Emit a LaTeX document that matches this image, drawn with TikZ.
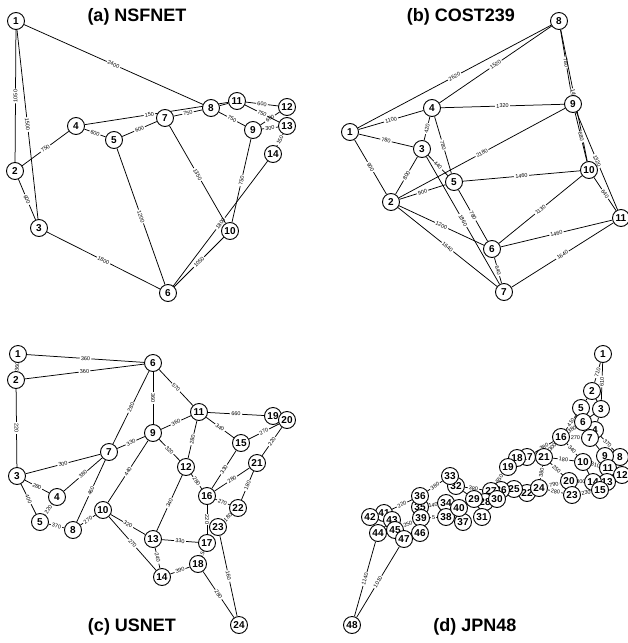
\documentclass[tikz,border=0pt]{standalone}
\usepackage{fontspec}
\setmainfont{Liberation Sans}
\usepackage{tikz}
\usetikzlibrary{backgrounds}
\tikzstyle{vtx}=[circle, draw, fill=white,% numbered site
line width=0.9pt, minimum size=17pt, inner sep=0pt, font=\fontsize{10}{10}\selectfont\bfseries]
\tikzstyle{link}=[line width=0.75pt]
\tikzstyle{wt}=[sloped, fill=white, inner xsep=1.2pt, inner ysep=0.4pt, font=\fontsize{5.5}{5.5}\selectfont]
\tikzstyle{ttl}=[font=\fontsize{18}{18}\selectfont\bfseries]

\begin{document}
\begin{tikzpicture}[x=1pt,y=-1pt]
\useasboundingbox (0,0) rectangle (628,643);
% titles
\node[ttl] (ta) at (137,17) {(a) NSFNET};
\node[ttl] (tb) at (461,17) {(b) COST239};
\node[ttl] (tc) at (132,627) {(c) USNET};
\node[ttl] (td) at (475,627) {(d) JPN48};
% (a) NSFNET
\foreach \i/\x/\y in {1/16/21, 2/15/171, 3/39/228, 4/76/126, 5/114/140, 6/168/293, 7/165/118,
  8/211/108, 9/253/130, 10/230/231, 11/237/101, 12/287/107, 13/287/126, 14/273/154}
  \node[vtx] (n\i) at (\x,\y) {\i};
% (b) COST239
\foreach \i/\x/\y in {1/350/132, 2/391/202, 3/422/149, 4/432/108, 5/454/182, 6/492/249,
  7/504/292, 8/559/21, 9/573/104, 10/589/170, 11/621/218}
  \node[vtx] (b\i) at (\x,\y) {\i};
% (c) USNET
\foreach \i/\x/\y in {1/18/354, 2/16/380, 3/17/476, 4/57/497, 5/40/522, 6/153/363, 7/109/452,
  8/73/530, 9/153/433, 10/103/510, 11/199/412, 12/186/467, 13/153/539, 14/162/577,
  15/241/443, 16/207/496, 17/207/543, 18/198/564, 19/273/416, 20/287/420, 21/257/463,
  22/238/508, 23/218/527, 24/239/625}
  \node[vtx] (u\i) at (\x,\y) {\i};
% (d) JPN48
\foreach \i/\x/\y in {1/603/354, 2/592/391, 3/601/409, 4/595/430, 5/581/408, 6/583/422,
  7/590/438, 8/620/457, 9/605/456, 10/583/462, 11/608/468, 12/622/475, 13/607/482,
  14/593/482, 15/600/490, 16/561/437, 17/527/457, 18/517/458, 19/508/467, 20/569/481,
  21/544/457, 22/527/493, 23/572/495, 24/539/488, 25/514/489, 26/501/490, 27/491/491,
  28/485/502, 29/474/499, 30/497/499, 31/482/517, 32/456/486, 33/450/476, 34/446/503,
  35/420/507, 36/420/496, 37/463/522, 38/446/517, 39/421/518, 40/459/508, 41/384/513,
  42/370/517, 43/392/520, 44/378/533, 45/395/530, 46/420/533, 47/404/539, 48/352/625}
  \node[vtx] (j\i) at (\x,\y) {\i};

\begin{scope}[on background layer]
\foreach \a/\b/\w in {1/2/1050, 1/3/1500, 1/8/2400, 2/3/600, 2/4/750, 3/6/1800, 4/5/600,
  5/6/1200, 5/7/600, 6/10/1050, 6/14/1800, 7/8/750, 7/10/1350, 8/9/750, 9/10/750,
  9/12/600, 9/13/300, 11/12/600, 11/13/750, 13/14/150}
  \draw[link] (n\a) -- node[wt] {\w} (n\b);
\draw[link] (n4) -- node[wt, pos=0.45] {150} (n11);
\draw[link] (n8) -- (n11);

\foreach \a/\b/\w in {1/8/2620, 4/8/1520, 1/4/1100, 4/9/1320, 1/3/780, 1/2/900, 3/4/420,
  4/5/780, 3/5/440, 3/7/1860, 2/3/800, 2/5/900, 2/9/2180, 5/10/1460, 5/6/780, 2/6/1200,
  2/7/1640, 6/7/640, 6/10/1130, 6/11/1460, 7/11/1640, 8/9/780, 8/10/1460, 9/10/680,
  9/11/1320, 10/11/640}
  \draw[link] (b\a) -- node[wt] {\w} (b\b);

\foreach \a/\b/\w in {1/2/360, 1/6/360, 2/6/360, 2/3/220, 3/4/280, 3/5/400, 3/7/300,
  4/5/220, 4/7/380, 5/8/370, 6/7/280, 6/9/360, 6/11/570, 7/8/460, 7/9/330, 8/10/270,
  9/10/440, 9/11/360, 9/12/320, 10/13/320, 10/14/270, 11/12/280, 11/15/340, 11/19/660,
  12/13/340, 12/16/280, 13/14/240, 13/17/330, 14/18/390, 15/16/330, 15/20/270, 16/17/220,
  16/21/280, 16/22/270, 17/18/150, 18/24/280, 20/21/220, 21/22/180, 22/23/180, 23/24/160}
  \draw[link] (u\a) -- node[wt] {\w} (u\b);
\draw[link] (u19) -- (u20);

\foreach \a/\b/\w in {1/2/710, 1/3/610, 5/16/410, 6/16/380, 16/7/270, 17/16/380, 16/21/300,
  21/10/180, 16/10/340, 4/8/370, 10/11/310, 21/24/380, 21/20/250, 24/20/790, 24/23/280,
  20/14/300, 23/15/230, 19/27/550, 32/27/380, 33/36/380, 36/41/220, 35/34/140, 45/39/250,
  39/38/5, 44/48/1140, 47/48/1010}
  \draw[link] (j\a) -- node[wt] {\w} (j\b);
\foreach \a/\b in {2/3, 2/5, 3/4, 3/6, 5/6, 6/7, 4/7, 7/9, 8/9, 9/11, 8/12, 11/12, 11/13,
  12/13, 10/14, 13/14, 14/15, 13/15, 20/23, 17/18, 18/19, 17/21, 22/24, 22/25, 25/26,
  26/27, 26/30, 27/28, 28/30, 28/29, 28/31, 30/31, 29/32, 33/32, 29/40, 34/40, 34/38,
  38/40, 37/40, 37/38, 36/35, 35/39, 39/46, 46/47, 45/47, 41/42, 41/43, 43/45, 42/44,
  44/45, 43/44}
  \draw[link] (j\a) -- (j\b);
\end{scope}
\end{tikzpicture}
\end{document}
